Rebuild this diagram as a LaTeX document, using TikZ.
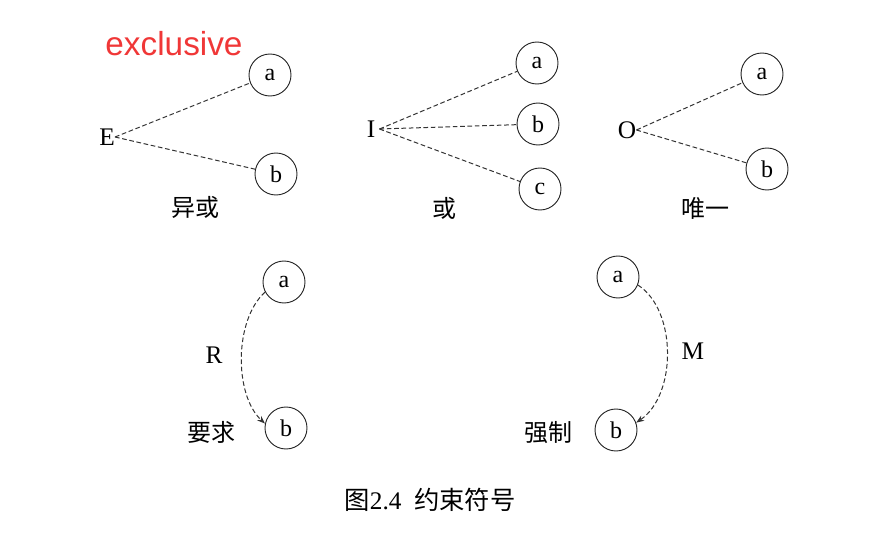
\documentclass[tikz,border=0pt]{standalone}
\usepackage{fontspec}
\setmainfont{Liberation Serif}
\newfontfamily\cjk{Noto Sans CJK SC}
\newfontfamily\redsans{Liberation Sans}
\usetikzlibrary{arrows.meta}
\definecolor{exred}{RGB}{240,55,55}
\begin{document}
\begin{tikzpicture}[x=0.75pt,y=-0.75pt,
  ent/.style={circle,draw=black!85,line width=0.7pt,minimum size=31.5pt,inner sep=0pt,font=\fontsize{18}{18}\selectfont},
  lbl/.style={font=\fontsize{19}{19}\selectfont,inner sep=0pt},
  zh/.style={font=\cjk\fontsize{18}{18}\selectfont,inner sep=0pt},
  dl/.style={draw=black!80,dash pattern=on 3.5pt off 2pt,line width=0.75pt},
  arr/.style={dl,-{Stealth[length=6pt,width=4.5pt]}}]
\useasboundingbox (0,0) rectangle (885,549);
% E group
\node[font=\redsans\fontsize{25}{25}\selectfont,text=exred,inner sep=0pt] (ex) at (174,44) {exclusive};
\node[lbl] (E) at (107,137) {E};
\node[ent] (Ea) at (270,75) {a};
\node[ent] (Eb) at (276,174) {b};
\node[zh] (Et) at (195,207) {异或};
\draw[dl] (E.east) -- (Ea);
\draw[dl] (E.east) -- (Eb);
% I group
\node[lbl] (I) at (371,129) {I};
\node[ent] (Ia) at (537,63) {a};
\node[ent] (Ib) at (538,124) {b};
\node[ent] (Ic) at (540,189) {c};
\node[zh] (It) at (444,208) {或};
\draw[dl] ([xshift=3pt]I.east) -- (Ia);
\draw[dl] ([xshift=3pt]I.east) -- (Ib);
\draw[dl] ([xshift=3pt]I.east) -- (Ic);
% O group
\node[lbl] (O) at (627,130) {O};
\node[ent] (Oa) at (762,74) {a};
\node[ent] (Ob) at (767,169) {b};
\node[zh] (Ot) at (705,208) {唯一};
\draw[dl] (O.east) -- (Oa);
\draw[dl] (O.east) -- (Ob);
% R
\node[ent] (Ra) at (284,282) {a};
\node[ent] (Rb) at (286,428) {b};
\node[lbl] (R) at (214,355) {R};
\node[zh] (Rt) at (211,432) {要求};
\draw[arr] (Ra.208) .. controls (234,320) and (234,395) .. (Rb.168);
% M
\node[ent] (Ma) at (618,277) {a};
\node[ent] (Mb) at (616,430) {b};
\node[lbl] (M) at (693,351) {M};
\node[zh] (Mt) at (548,433) {强制};
\draw[arr] (Ma.-22) .. controls (677,310) and (677,395) .. (Mb.20);
% caption
\node[font=\fontsize{19}{19}\selectfont,inner sep=0pt] (cap) at (430,500) {{\cjk 图}2.4\hspace{0.5em}{\cjk 约束符号}};
\end{tikzpicture}
\end{document}
